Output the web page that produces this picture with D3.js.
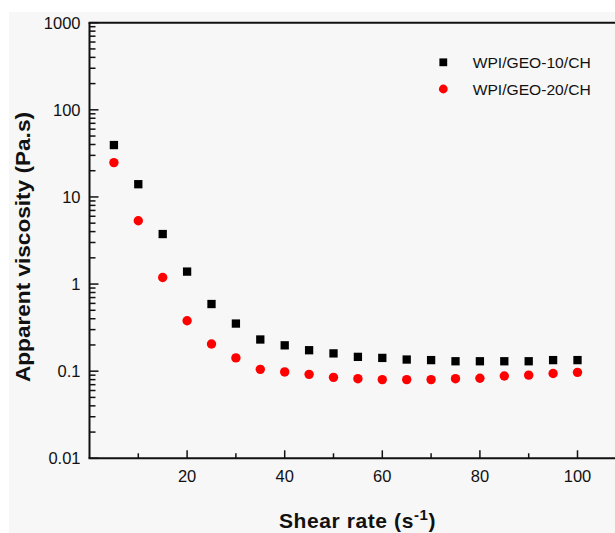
<!DOCTYPE html>
<html>
<head>
<meta charset="utf-8">
<script src="https://cdn.jsdelivr.net/npm/d3@7/dist/d3.min.js"></script>
</head>
<body style="margin:0">
<svg id="chart" width="615" height="533" style="display:block;background:#ffffff"></svg>
<script>
// ---- data ----
const shearRate = [5, 10, 15, 20, 25, 30, 35, 40, 45, 50, 55, 60, 65, 70, 75, 80, 85, 90, 95, 100];
const geo10 = [39.4, 14.0, 3.75, 1.39, 0.59, 0.352, 0.231, 0.198, 0.174, 0.160, 0.146, 0.142, 0.136, 0.134, 0.130, 0.130, 0.130, 0.130, 0.134, 0.134];
const geo20 = [24.8, 5.33, 1.19, 0.379, 0.205, 0.142, 0.105, 0.098, 0.092, 0.085, 0.082, 0.080, 0.080, 0.080, 0.082, 0.083, 0.088, 0.090, 0.094, 0.097];
const seriesNames = ["WPI/GEO-10/CH", "WPI/GEO-20/CH"];
const xTickValues = [20, 40, 60, 80, 100];
const xMinorTicks = [10, 30, 50, 70, 90];
const yTickValues = [1000, 100, 10, 1, 0.1, 0.01];
const yTickLabels = ["1000", "100", "10", "1", "0.1", "0.01"];
const xTitle = "Shear rate (s";
const xTitleSup = "-1";
const yTitle = "Apparent viscosity (Pa.s)";

// ---- layout ----
const FONT = "Arial, 'Liberation Sans', sans-serif";
const svg = d3.select("#chart");
const plotLeft = 89.5, plotTop = 22.7, plotBottom = 458.3;

svg.append("rect").attr("x", 9).attr("y", 12).attr("width", 606).attr("height", 521).attr("fill", "#f7f7f7");

const xScale = d3.scaleLinear().domain([0, 110]).range([plotLeft, plotLeft + 110 * 4.88]);
const yScale = d3.scaleLog().domain([0.01, 1000]).range([plotBottom, plotTop]);

const axisColor = "#111";

// minor y ticks
const yMinor = [];
for (let e = -2; e < 3; e++) for (let m = 2; m <= 9; m++) yMinor.push(m * Math.pow(10, e));

// tick marks positioned by the scales
const tickLayer = svg.append("g").attr("stroke", axisColor).attr("stroke-width", 1.5);
tickLayer.selectAll("line.ymin").data(yMinor).join("line").attr("class", "ymin")
  .attr("x1", plotLeft).attr("x2", plotLeft + 6)
  .attr("y1", d => yScale(d)).attr("y2", d => yScale(d));
tickLayer.selectAll("line.ymaj").data(yTickValues).join("line").attr("class", "ymaj")
  .attr("x1", plotLeft).attr("x2", plotLeft + 9)
  .attr("y1", d => yScale(d)).attr("y2", d => yScale(d));
tickLayer.selectAll("line.xmin").data(xMinorTicks).join("line").attr("class", "xmin")
  .attr("x1", d => xScale(d)).attr("x2", d => xScale(d))
  .attr("y1", plotBottom).attr("y2", plotBottom - 5);
tickLayer.selectAll("line.xmaj").data(xTickValues).join("line").attr("class", "xmaj")
  .attr("x1", d => xScale(d)).attr("x2", d => xScale(d))
  .attr("y1", plotBottom).attr("y2", plotBottom - 8);

// y labels
svg.append("g").selectAll("text").data(yTickValues).join("text")
  .attr("x", plotLeft - 9).attr("y", d => yScale(d)).attr("dy", "0.36em")
  .attr("text-anchor", "end").attr("font-family", FONT).attr("font-size", 16.5).attr("fill", "#111")
  .text((d, i) => yTickLabels[i]);

svg.append("g").selectAll("text").data(xTickValues).join("text")
  .attr("x", d => xScale(d)).attr("y", 482)
  .attr("text-anchor", "middle").attr("font-family", FONT).attr("font-size", 16.5).attr("fill", "#111")
  .text(d => d);

// axis lines (left, bottom, top)
svg.append("line").attr("x1", plotLeft).attr("x2", plotLeft).attr("y1", plotTop).attr("y2", plotBottom)
  .attr("stroke", axisColor).attr("stroke-width", 2);
svg.append("line").attr("x1", plotLeft - 1).attr("x2", 615).attr("y1", plotBottom).attr("y2", plotBottom)
  .attr("stroke", axisColor).attr("stroke-width", 2);
svg.append("line").attr("x1", plotLeft - 1).attr("x2", 615).attr("y1", plotTop).attr("y2", plotTop)
  .attr("stroke", axisColor).attr("stroke-width", 2);

// data
const sq = 8.3;
svg.append("g").selectAll("rect").data(shearRate).join("rect")
  .attr("x", (d) => xScale(d) - sq / 2).attr("y", (d, i) => yScale(geo10[i]) - sq / 2)
  .attr("width", sq).attr("height", sq).attr("fill", "#000");
svg.append("g").selectAll("circle").data(shearRate).join("circle")
  .attr("cx", d => xScale(d)).attr("cy", (d, i) => yScale(geo20[i]))
  .attr("r", 4.7).attr("fill", "#ff0000");

// legend
const lg = svg.append("g").attr("font-family", FONT);
lg.append("rect").attr("x", 443.3 - 3.9).attr("y", 62.3 - 3.9).attr("width", 7.8).attr("height", 7.8).attr("fill", "#000");
lg.append("circle").attr("cx", 443.3).attr("cy", 89).attr("r", 4.4).attr("fill", "#ff0000");
lg.append("text").attr("x", 472.7).attr("y", 68.3).attr("font-size", 14.5).attr("fill", "#111")
  .attr("textLength", 118).attr("lengthAdjust", "spacingAndGlyphs").text(seriesNames[0]);
lg.append("text").attr("x", 472.7).attr("y", 95).attr("font-size", 14.5).attr("fill", "#111")
  .attr("textLength", 118).attr("lengthAdjust", "spacingAndGlyphs").text(seriesNames[1]);

// axis titles
const xt = svg.append("text").attr("x", 357.5).attr("y", 528).attr("text-anchor", "middle")
  .attr("font-family", FONT).attr("font-size", 21).attr("font-weight", "bold").attr("fill", "#111").attr("letter-spacing", 0.6);
xt.append("tspan").text(xTitle);
xt.append("tspan").attr("font-size", 15).attr("dy", -8.5).text(xTitleSup);
xt.append("tspan").attr("dy", 8.5).text(")");

svg.append("text").attr("transform", `translate(29.5,247) rotate(-90)`)
  .attr("text-anchor", "middle").attr("font-family", FONT).attr("font-size", 21).attr("font-weight", "bold").attr("fill", "#111")
  .attr("textLength", 270).attr("lengthAdjust", "spacingAndGlyphs")
  .text(yTitle);
</script>
</body>
</html>
